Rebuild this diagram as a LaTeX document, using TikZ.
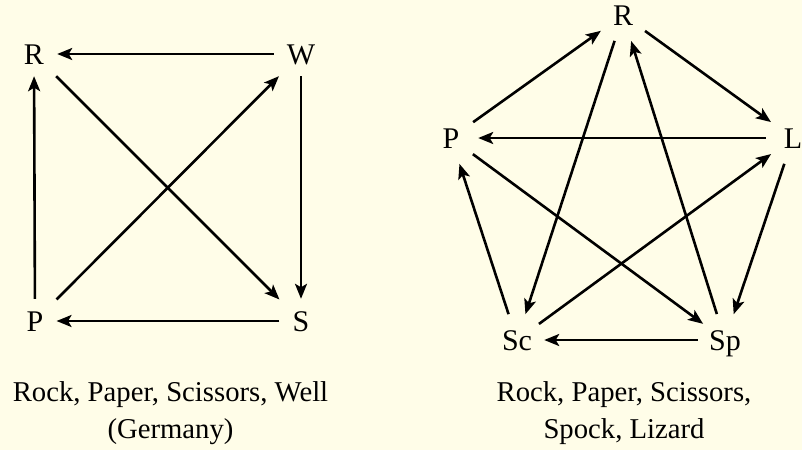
\documentclass[tikz,border=0pt]{standalone}
\usepackage{fontspec}
\setmainfont{Liberation Serif}
\usetikzlibrary{arrows.meta}
\definecolor{bgcream}{RGB}{255,253,232}
\begin{document}
\begin{tikzpicture}[x=1pt,y=-1pt,
  vert/.style={text height=20pt,text depth=0pt,inner xsep=13pt,inner ysep=12pt,font=\fontsize{30}{36}\selectfont},
  pvert/.style={circle,text height=20pt,text depth=0pt,inner sep=0pt,minimum size=54pt,font=\fontsize{30}{36}\selectfont},
  edge/.style={line width=2.6pt,-{Stealth[length=15pt,width=12pt,inset=3.5pt]}},
  captxt/.style={align=center,anchor=base,font=\fontsize{28.7}{37}\selectfont}]
\fill[bgcream] (0,0) rectangle (802,450);
\useasboundingbox (0,0) rectangle (802,450);
% left graph
\node[vert] (lR) at (34,54) {R};
\node[vert] (lW) at (301,54) {W};
\node[vert] (lP) at (35,321) {P};
\node[vert] (lS) at (301,321) {S};
\draw[edge] (lW) -- (lR);
\draw[edge] (lP) -- (lR);
\draw[edge] (lW) -- (lS);
\draw[edge] (lS) -- (lP);
\draw[edge] (lR) -- (lS);
\draw[edge] (lP) -- (lW);
\node[captxt] (lcap) at (170.5,438) {Rock, Paper, Scissors, Well\\(Germany)};
% right graph
\node[pvert] (rR) at (623,15) {R};
\node[pvert] (rP) at (451,138) {P};
\node[pvert] (rL) at (793,138) {L};
\node[pvert] (rSc) at (517,340) {Sc};
\node[pvert] (rSp) at (725,340) {Sp};
\draw[edge] (rP) -- (rR);
\draw[edge] (rR) -- (rL);
\draw[edge] (rL) -- (rP);
\draw[edge] (rL) -- (rSp);
\draw[edge] (rSp) -- (rSc);
\draw[edge] (rSc) -- (rP);
\draw[edge] (rR) -- (rSc);
\draw[edge] (rSp) -- (rR);
\draw[edge] (rP) -- (rSp);
\draw[edge] (rSc) -- (rL);
\node[captxt] (rcap) at (624,438) {Rock, Paper, Scissors,\\Spock, Lizard};
\end{tikzpicture}
\end{document}
